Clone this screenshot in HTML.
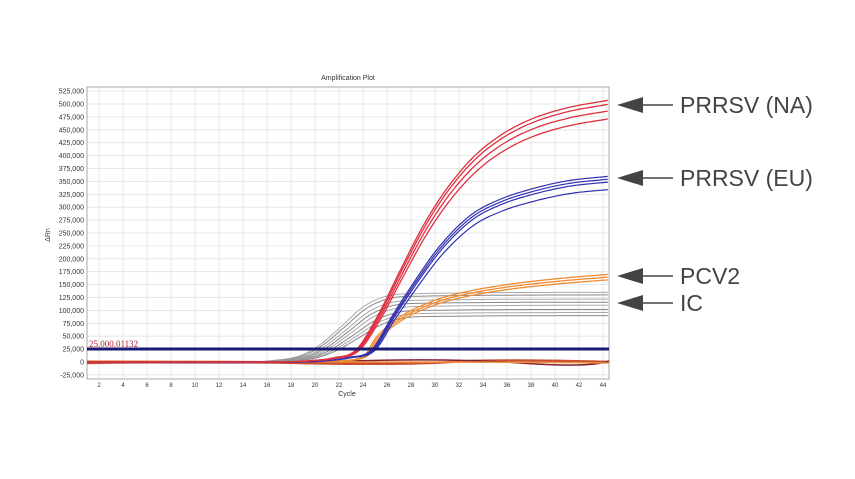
<!DOCTYPE html>
<html><head><meta charset="utf-8"><style>
html,body{margin:0;padding:0;background:#fff;}
svg{display:block;font-family:"Liberation Sans",sans-serif;}
</style></head><body>
<svg id="s" width="855" height="479" viewBox="0 0 855 479" xmlns="http://www.w3.org/2000/svg">
<rect width="855" height="479" fill="#fff"/>
<g id="grid"></g>
<rect x="87" y="87" width="522" height="292" fill="none" stroke="#aaa" stroke-width="1"/>
<text x="348" y="80" font-size="7" text-anchor="middle" fill="#333">Amplification Plot</text>
<text x="347" y="396" font-size="7" text-anchor="middle" fill="#333">Cycle</text>
<text x="50" y="235" font-size="7" text-anchor="middle" fill="#333" transform="rotate(-90 50 235)">ΔRn</text>
<g id="curves"></g>
<line x1="87" y1="349" x2="609" y2="349" stroke="#1a1a70" stroke-width="3"/>
<text x="89" y="347" font-size="9" fill="#b0203a" font-family="Liberation Serif,serif">25,000.01132</text>
<g fill="#444" stroke="#444">
<polygon points="617,105 643,97 643,113" stroke="none"/><line x1="640" y1="105" x2="673" y2="105" stroke-width="1.5"/>
<polygon points="617,178 643,170 643,186" stroke="none"/><line x1="640" y1="178" x2="673" y2="178" stroke-width="1.5"/>
<polygon points="617,276 643,268 643,284" stroke="none"/><line x1="640" y1="276" x2="673" y2="276" stroke-width="1.5"/>
<polygon points="617,303 643,295 643,311" stroke="none"/><line x1="640" y1="303" x2="673" y2="303" stroke-width="1.5"/>
</g>
<g font-size="23" fill="#444">
<text x="680" y="113">PRRSV (NA)</text>
<text x="680" y="186">PRRSV (EU)</text>
<text x="680" y="284">PCV2</text>
<text x="680" y="311">IC</text>
</g>
</svg>
<script>
function X(c){return 87+12*(c-1);}
function Y(v){return 362-v/25000*12.9;}
var g=document.getElementById('grid'),h='';
for(var v=-25000;v<=525000;v+=25000){var y=Y(v);
 h+='<line x1="87" x2="609" y1="'+y+'" y2="'+y+'" stroke="#e2e2e2" stroke-width="0.8"/>';
 h+='<text x="84" y="'+(y+2.5)+'" font-size="7" text-anchor="end" fill="#333">'+(v<0?'-25,000':v==0?'0':(v/1000)+',000')+'</text>';}
for(var c=2;c<=44;c+=2){var x=X(c);
 h+='<line y1="87" y2="379" x1="'+x+'" x2="'+x+'" stroke="#e2e2e2" stroke-width="0.8"/>';
 h+='<text x="'+x+'" y="387" font-size="6" text-anchor="middle" fill="#333">'+c+'</text>';}
g.innerHTML=h;
function mono(P){var n=P.length,xs=P.map(p=>p[0]),ys=P.map(p=>p[1]),d=[],m=[];
 for(var i=0;i<n-1;i++)d.push((ys[i+1]-ys[i])/(xs[i+1]-xs[i]));
 m[0]=d[0];m[n-1]=d[n-2];
 for(i=1;i<n-1;i++){m[i]=(d[i-1]*d[i]<=0)?0:(d[i-1]+d[i])/2;}
 for(i=0;i<n-1;i++){if(d[i]==0){m[i]=m[i+1]=0;continue;}var a=m[i]/d[i],b=m[i+1]/d[i],s=a*a+b*b;if(s>9){var t=3/Math.sqrt(s);m[i]=t*a*d[i];m[i+1]=t*b*d[i];}}
 return function(x){if(x<=xs[0])return ys[0];if(x>=xs[n-1])return ys[n-1];var i=0;while(xs[i+1]<x)i++;
  var hh=xs[i+1]-xs[i],t=(x-xs[i])/hh,t2=t*t,t3=t2*t;
  return (2*t3-3*t2+1)*ys[i]+(t3-2*t2+t)*hh*m[i]+(-2*t3+3*t2)*ys[i+1]+(t3-t2)*hh*m[i+1];};}
function path(f,scale,shift,col,w){var d='';
 for(var c=1;c<=44.5;c+=0.2){var v=f(c-shift)*scale;d+=(d?'L':'M')+X(c).toFixed(1)+','+Y(v).toFixed(1);}
 return '<path d="'+d+'" fill="none" stroke="'+col+'" stroke-width="'+w+'"/>';}
var red=mono([[1,0],[17,0],[19.5,2500],[21.5,8000],[23.4,23000],[25.2,88000],[27,172000],[29,262000],[30.7,325000],[32.5,378000],[34,412000],[36,445000],[38.2,470000],[41,490000],[44.5,505000]]);
var blue=mono([[1,0],[18,0],[20.5,2000],[22.8,9000],[24.7,23000],[26.4,88000],[28.2,153000],[30.4,225000],[33,285000],[35.4,315000],[38,335000],[41,351000],[44.5,360000]]);
var orange=mono([[1,0],[19,0],[22,2500],[24.1,12000],[25,45000],[27,86000],[29.8,118000],[32,133000],[35.4,148000],[40,161000],[44.5,170000]]);
var gray=mono([[1,0],[14,0],[16.5,3000],[18.6,11000],[20.3,31000],[22.2,68000],[24,105000],[25.7,124000],[27.5,130000],[44.5,133000]]);
var s='';
s+='<path d="M87,363 Q200,361 300,363 T450,362 T609,362" stroke="#c85030" stroke-width="2.5" fill="none"/>';
s+='<path d="M87,362 Q250,364 350,361 T520,363 T609,361" stroke="#802030" stroke-width="1.5" fill="none"/>';
s+='<path d="M87,361 Q220,362 380,362 T609,363" stroke="#f09040" stroke-width="1.5" fill="none"/>';
[135,130,122,116,110,102,96,90].forEach(function(F,i){s+=path(gray,F/133,i*0.2,i%2?'#888':'#aaa',1);});
[[1,0],[0.97,0.12],[0.94,0.24]].forEach(function(a){s+=path(orange,a[0],a[1],'#f08a30',1.3);});
[[1,0],[0.985,0.08],[0.97,0.16],[0.93,0.24]].forEach(function(a){s+=path(blue,a[0],a[1],'#3030b0',1.2);});
[[1.005,0],[0.99,0.08],[0.965,0.16],[0.935,0.24]].forEach(function(a){s+=path(red,a[0],a[1],'#e03040',1.3);});
document.getElementById('curves').innerHTML=s;
</script>
</body></html>
